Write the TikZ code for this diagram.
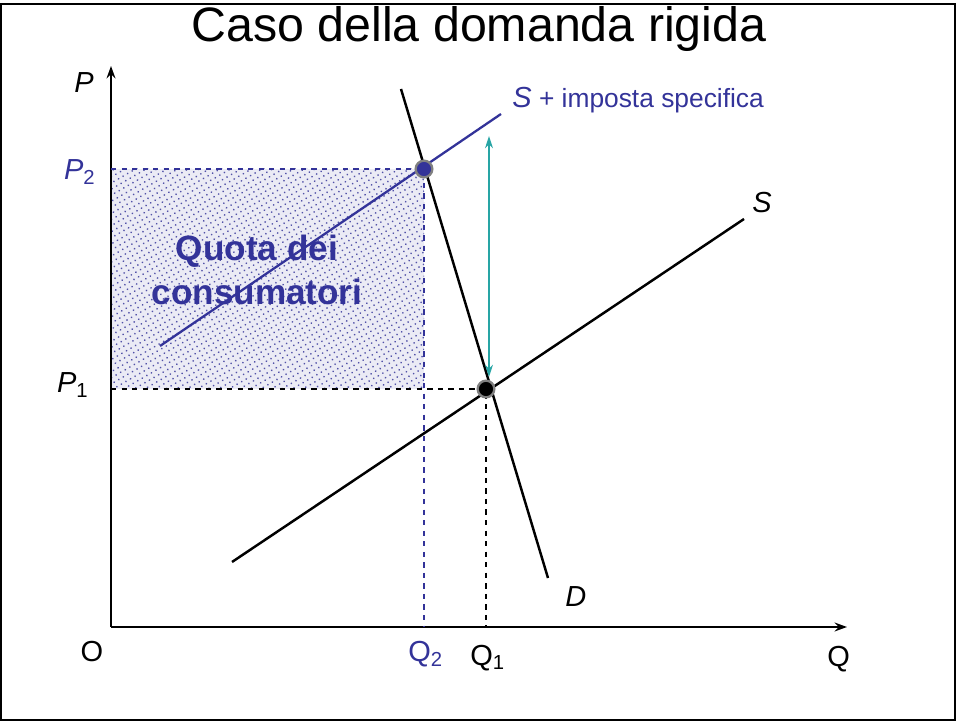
\documentclass[tikz,border=0pt]{standalone}
\usepackage{fontspec}
\setmainfont{Liberation Sans}
\usetikzlibrary{arrows.meta,patterns.meta}
\definecolor{taxblue}{RGB}{51,51,153}
\definecolor{arrowteal}{RGB}{40,165,165}
\begin{document}
\begin{tikzpicture}[x=0.02cm,y=-0.02cm,
	curve/.style = {line width=1.4pt},
	taxcurve/.style = {line width=1.3pt, taxblue},
	guide/.style = {dashed, line width=0.6pt},
	eqpoint/.style = {circle, draw=gray, line width=1.3pt, minimum size=9.5pt, inner sep=0pt},
	lab/.style = {inner sep=0pt, font=\fontsize{16.5}{19}\selectfont},
	axis/.style = {line width=1.5pt, -{Stealth[length=7pt,width=5pt]}}]
	\useasboundingbox (0,0) rectangle (957,722);
	\draw[line width=1.5pt] (1,4) rectangle (955,720);

	\node[anchor=base, inner sep=0pt, font=\fontsize{27.5}{32}\selectfont] (title) at (479,42) {Caso della domanda rigida};

	% consumer share area
	\fill[taxblue!10] (111,169) rectangle (424,389);
	\fill[pattern={Dots[distance=3pt,radius=0.55pt,angle=30]}, pattern color=taxblue!85] (111,169) rectangle (424,389);
	\node[align=center, inner sep=0pt, text=taxblue, font=\fontsize{20}{25.5}\selectfont\bfseries] (quota) at (257,270) {Quota dei\\consumatori};

	% axes
	\coordinate (O) at (111,627);
	\coordinate (ytop) at (111,66);
	\coordinate (xend) at (847,627);
	\draw[axis] (O) -- (ytop);
	\draw[axis] (O) -- (xend);

	% equilibria
	\coordinate (e1) at (486,389);
	\coordinate (e2) at (424,169);
	\coordinate (p1) at (111,389);
	\coordinate (p2) at (111,169);
	\coordinate (q1) at (486,627);
	\coordinate (q2) at (424,627);

	\draw[guide] (p1) -- (e1) -- (q1);
	\draw[guide, taxblue] (p2) -- (e2) -- (q2);

	% curves
	\coordinate (d1) at (401,89);
	\coordinate (d2) at (548,578);
	\coordinate (s1) at (232,562);
	\coordinate (s2) at (744,219);
	\coordinate (t1) at (160,346);
	\coordinate (t2) at (501,114);
	\draw[curve] (d1) -- (d2);
	\draw[curve] (s1) -- (s2);
	\draw[taxcurve] (t1) -- (t2);

	\coordinate (atop) at (489,136);
	\coordinate (abot) at (489,377);
	\draw[arrowteal, line width=1pt, {Stealth[length=7pt,width=4.5pt]}-{Stealth[length=7pt,width=4.5pt]}] (atop) -- (abot);

	\node[eqpoint, fill=black] (E1) at (e1) {};
	\node[eqpoint, fill=taxblue] (E2) at (e2) {};

	% labels
	\node[lab, anchor=base east] (Plab) at (94,93) {\itshape P};
	\node[lab, anchor=base east, text=taxblue] (P2lab) at (96,180) {\itshape P\textsubscript{\upshape 2}};
	\node[lab, anchor=base east] (P1lab) at (89,393) {\itshape P\textsubscript{\upshape 1}};
	\node[lab] (Olab) at (92,652) {O};
	\node[lab, anchor=base west, text=taxblue] (Q2lab) at (408,662) {Q\textsubscript{2}};
	\node[lab, anchor=base west] (Q1lab) at (470,665) {Q\textsubscript{1}};
	\node[lab, anchor=base west] (Qlab) at (827,666) {Q};
	\node[lab, anchor=base west] (Dlab) at (565,607) {\itshape D};
	\node[lab, anchor=base west] (Slab) at (752,213) {\itshape S};
	\node[lab, anchor=base west, text=taxblue] (Stlab) at (512,108) {\itshape S\upshape\fontsize{15}{18}\selectfont{} + imposta specifica};
\end{tikzpicture}
\end{document}
